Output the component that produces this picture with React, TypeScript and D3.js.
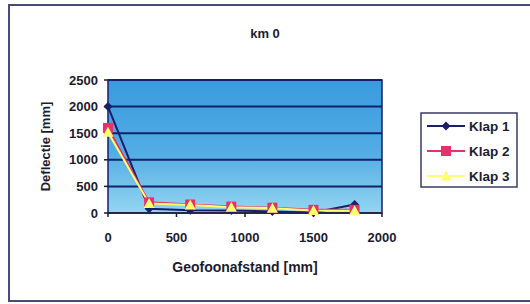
import * as d3 from 'd3'

const distances = [0, 300, 600, 900, 1200, 1500, 1800]
const klap1 = [2000, 80, 50, 45, 30, 10, 160]
const klap2 = [1600, 200, 160, 120, 100, 60, 60]
const klap3 = [1520, 180, 150, 110, 90, 45, 40]
const seriesNames = ['Klap 1', 'Klap 2', 'Klap 3']
const xTicks = [0, 500, 1000, 1500, 2000]
const yTicks = [0, 500, 1000, 1500, 2000, 2500]

const colors = ['#1b1f6b', '#e8306a', '#ffff70']
const ink = '#1c1c30'
const font = '"Liberation Sans", Arial, sans-serif'

const App = () => {
  const left = 108
  const right = 382
  const top = 80
  const bottom = 213

  const x = d3.scaleLinear().domain([0, 2000]).range([left, right])
  const y = d3.scaleLinear().domain([0, 2500]).range([bottom, top])

  const line = d3
    .line<number>()
    .x((_, i) => x(distances[i]))
    .y((d) => y(d))

  const series = [klap1, klap2, klap3]

  const marker = (k: number, cx: number, cy: number, key: string) => {
    if (k === 0) {
      const s = 4.5
      return (
        <path
          key={key}
          d={`M${cx},${cy - s}L${cx + s},${cy}L${cx},${cy + s}L${cx - s},${cy}Z`}
          fill={colors[0]}
        />
      )
    }
    if (k === 1) {
      return <rect key={key} x={cx - 5} y={cy - 5} width={10} height={10} fill={colors[1]} />
    }
    return (
      <path
        key={key}
        d={`M${cx},${cy - 5.5}L${cx + 5.5},${cy + 4.5}L${cx - 5.5},${cy + 4.5}Z`}
        fill={colors[2]}
      />
    )
  }

  return (
    <svg
      width={530}
      height={304}
      style={{ position: 'absolute', left: 0, top: 0, background: '#fff' }}
      fontFamily={font}
    >
      <defs>
        <linearGradient id='plotBg' x1='0' y1='0' x2='0' y2='1'>
          <stop offset='0%' stopColor='#3a9ade' />
          <stop offset='55%' stopColor='#52ade4' />
          <stop offset='100%' stopColor='#94d5f1' />
        </linearGradient>
      </defs>

      {/* outer frame */}
      <rect x={9} y={5} width={524} height={296} fill='none' stroke='#4a4a78' strokeWidth={2} />

      <text x={265} y={33} dy='0.35em' textAnchor='middle' fontSize={13} fontWeight='bold' fill={ink}>
        km 0
      </text>

      {/* plot area */}
      <rect x={left} y={top} width={right - left} height={bottom - top} fill='url(#plotBg)' />
      {yTicks.slice(1).map((t) => (
        <line key={t} x1={left} x2={right} y1={y(t)} y2={y(t)} stroke='#15206a' strokeWidth={2} />
      ))}
      <rect
        x={left}
        y={top}
        width={right - left}
        height={bottom - top}
        fill='none'
        stroke='#15206a'
        strokeWidth={1.5}
      />

      {/* y axis */}
      {yTicks.map((t) => (
        <g key={t}>
          <line x1={left - 4} x2={left} y1={y(t)} y2={y(t)} stroke={ink} strokeWidth={1.5} />
          <text
            x={left - 10}
            y={y(t)}
            dy='0.35em'
            textAnchor='end'
            fontSize={13}
            fontWeight='bold'
            fill={ink}
          >
            {t}
          </text>
        </g>
      ))}
      <text
        transform={`translate(45,${(top + bottom) / 2}) rotate(-90)`}
        textAnchor='middle'
        dy='0.35em'
        fontSize={13}
        fontWeight='bold'
        fill={ink}
      >
        Deflectie [mm]
      </text>

      {/* x axis */}
      <line x1={left} x2={right} y1={bottom} y2={bottom} stroke={ink} strokeWidth={1.5} />
      {xTicks.map((t) => (
        <g key={t}>
          <line x1={x(t)} x2={x(t)} y1={bottom} y2={bottom + 4} stroke={ink} strokeWidth={1.5} />
          <text x={x(t)} y={237} dy='0.35em' textAnchor='middle' fontSize={13} fontWeight='bold' fill={ink}>
            {t}
          </text>
        </g>
      ))}
      <text
        x={(left + right) / 2}
        y={267}
        dy='0.35em'
        textAnchor='middle'
        fontSize={14}
        fontWeight='bold'
        fill={ink}
      >
        Geofoonafstand [mm]
      </text>

      {/* series */}
      {series.map((s, k) => (
        <path key={k} d={line(s) || ''} fill='none' stroke={colors[k]} strokeWidth={2} />
      ))}
      {series.map((s, k) => s.map((v, i) => marker(k, x(distances[i]), y(v), `${k}-${i}`)))}

      {/* legend */}
      <rect x={421} y={113} width={96} height={74} fill='#fff' stroke='#3a3a66' strokeWidth={1.5} />
      {seriesNames.map((name, k) => {
        const ly = 126 + k * 25
        return (
          <g key={name}>
            <line x1={427} x2={465} y1={ly} y2={ly} stroke={colors[k]} strokeWidth={2} />
            {marker(k, 446, ly, `lg-${k}`)}
            <text x={469} y={ly} dy='0.35em' fontSize={13.5} fontWeight='bold' fill={ink}>
              {name}
            </text>
          </g>
        )
      })}
    </svg>
  )
}

export default App
